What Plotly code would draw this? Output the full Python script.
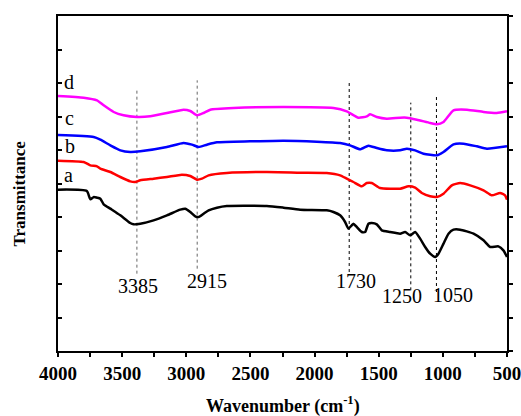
import plotly.graph_objects as go

# Wavenumber (cm-1) and transmittance (arbitrary, offset)
wn_a = [4000, 3775, 3748, 3720, 3696, 3670, 3644, 3592, 3514, 3437, 3411, 3359, 3255, 3151, 3047, 3008,
        2969, 2930, 2904, 2865, 2826, 2761, 2684, 2372, 2242, 2112, 1905, 1853, 1801, 1762, 1736, 1710,
        1697, 1671, 1632, 1606, 1580, 1554, 1515, 1476, 1411, 1333, 1294, 1255, 1216, 1177, 1138, 1099,
        1060, 1034, 995, 956, 917, 865, 761, 683, 631, 567, 528, 500]
t_a = [4.84, 4.80, 4.55, 4.62, 4.60, 4.57, 4.40, 4.27, 4.07, 3.84, 3.80, 3.82, 3.92, 4.07, 4.24, 4.27,
       4.17, 4.04, 4.02, 4.12, 4.22, 4.30, 4.35, 4.35, 4.30, 4.24, 4.22, 4.17, 4.07, 3.87, 3.67, 3.77,
       3.82, 3.72, 3.57, 3.57, 3.82, 3.84, 3.80, 3.62, 3.57, 3.52, 3.57, 3.47, 3.57, 3.37, 3.12, 2.92,
       2.82, 2.92, 3.22, 3.52, 3.64, 3.64, 3.52, 3.32, 3.12, 3.14, 3.02, 2.82]

wn_b = [4000, 3800, 3748, 3696, 3670, 3592, 3514, 3437, 3398, 3359, 3255, 3151, 3034, 2969, 2917, 2878,
        2826, 2684, 2372, 2112, 1905, 1801, 1749, 1697, 1632, 1593, 1554, 1489, 1333, 1268, 1216, 1164,
        1099, 1047, 995, 930, 865, 787, 683, 619, 554, 515, 500]
t_b = [5.71, 5.67, 5.57, 5.54, 5.47, 5.37, 5.22, 5.09, 5.07, 5.12, 5.17, 5.22, 5.29, 5.25, 5.14, 5.17,
       5.27, 5.34, 5.37, 5.35, 5.34, 5.27, 5.17, 5.07, 4.94, 5.04, 5.04, 4.89, 4.87, 4.94, 4.90, 4.74,
       4.64, 4.62, 4.72, 4.97, 5.04, 4.97, 4.82, 4.67, 4.74, 4.67, 4.54]

wn_c = [4000, 3722, 3670, 3592, 3514, 3437, 3359, 3151, 3021, 2956, 2904, 2839, 2761, 2502, 2242, 1983,
        1801, 1723, 1645, 1580, 1515, 1437, 1333, 1281, 1216, 1151, 1047, 995, 917, 839, 735, 657, 500]
t_c = [6.48, 6.42, 6.34, 6.17, 6.02, 5.97, 5.99, 6.12, 6.24, 6.19, 6.12, 6.19, 6.26, 6.29, 6.31, 6.28,
       6.24, 6.17, 6.05, 6.16, 6.09, 6.02, 6.02, 6.07, 6.02, 5.92, 5.87, 5.97, 6.20, 6.22, 6.14, 6.07, 6.14]

wn_d = [4000, 3800, 3696, 3644, 3566, 3489, 3385, 3281, 3151, 3021, 2969, 2917, 2865, 2813, 2632, 2242,
        1853, 1749, 1658, 1593, 1567, 1515, 1437, 1333, 1281, 1203, 1099, 1047, 995, 917, 813, 683, 580, 500]
t_d = [7.65, 7.60, 7.52, 7.37, 7.17, 7.07, 7.02, 7.04, 7.14, 7.24, 7.20, 7.07, 7.14, 7.24, 7.29, 7.32,
       7.29, 7.19, 7.00, 7.04, 7.10, 7.02, 6.97, 7.00, 7.00, 6.94, 6.84, 6.80, 6.87, 7.22, 7.24, 7.17, 7.14, 7.19]

series_names = ["a", "b", "c", "d"]
series_colors = ["#000000", "#ff0000", "#0000ff", "#ff00ff"]
series_x = [wn_a, wn_b, wn_c, wn_d]
series_y = [t_a, t_b, t_c, t_d]

# Letter label positions
label_x = [3917, 3904, 3912, 3917]
label_y = [5.27, 6.15, 7.00, 8.07]

# Marked peaks
peak_wn = [3385, 2915, 1730, 1250, 1050]
peak_top = [7.82, 8.12, 8.05, 7.45, 7.62]
peak_bottom = [2.32, 2.47, 2.37, 1.82, 1.77]
peak_text = ["3385", "2915", "1730", "1250", "1050"]
peak_text_x = [3377, 2840, 1676, 1315, 918]
peak_text_y = [1.94, 2.09, 2.09, 1.64, 1.69]
peak_colors = ["#666666", "#666666", "#000000", "#000000", "#000000"]

x_ticks = [4000, 3750, 3500, 3250, 3000, 2750, 2500, 2250, 2000, 1750, 1500, 1250, 1000, 750, 500]
x_ticktext = ["4000", "", "3500", "", "3000", "", "2500", "", "2000", "", "1500", "", "1000", "", "500"]

fig = go.Figure()

for wn, top, bot, col in zip(peak_wn, peak_top, peak_bottom, peak_colors):
    fig.add_trace(go.Scatter(x=[wn, wn], y=[bot, top], mode="lines",
                             line=dict(color=col, width=1, dash="dot"),
                             showlegend=False, hoverinfo="skip"))

for name, col, xs, ys in zip(series_names, series_colors, series_x, series_y):
    assert len(xs) == len(ys)
    fig.add_trace(go.Scatter(x=xs, y=ys, mode="lines", name=name,
                             line=dict(color=col, width=2.5, shape="spline", smoothing=0.5),
                             showlegend=False))

fig.add_trace(go.Scatter(x=[None], y=[None], yaxis="y2", showlegend=False))

serif = "Liberation Serif, Times New Roman, serif"

for t, x, y in zip(series_names, label_x, label_y):
    fig.add_annotation(x=x, y=y, text=t, showarrow=False, xanchor="center", yanchor="middle",
                       font=dict(family=serif, size=20, color="black"))

for t, x, y in zip(peak_text, peak_text_x, peak_text_y):
    fig.add_annotation(x=x, y=y, text=t, showarrow=False, xanchor="center", yanchor="middle",
                       font=dict(family=serif, size=20, color="black"))

# Axis titles
fig.add_annotation(xref="paper", yref="paper", x=0.5, y=0, yshift=-54, text="<b>Wavenumber (cm<sup>-1</sup>)</b>",
                   showarrow=False, xanchor="center", yanchor="middle",
                   font=dict(family=serif, size=18, color="black"))
fig.add_annotation(xref="paper", yref="paper", x=0, xshift=-38, y=0.47, text="<b>Transmittance</b>",
                   textangle=-90, showarrow=False, xanchor="center", yanchor="middle",
                   font=dict(family=serif, size=17, color="black"))

fig.update_layout(
    width=521, height=416,
    margin=dict(l=58, r=14, t=16, b=65, autoexpand=False),
    paper_bgcolor="white", plot_bgcolor="white",
    font=dict(family=serif, color="black"),
    xaxis=dict(range=[4000, 500], tickvals=x_ticks, ticktext=x_ticktext, automargin=False,
               ticks="outside", ticklen=4, tickwidth=1.5, tickcolor="black",
               ticklabeloverflow="allow",
               showline=True, linewidth=2, linecolor="black", mirror=True,
               showgrid=False, zeroline=False,
               tickfont=dict(family=serif, size=19, color="black", weight="bold")),
    yaxis=dict(range=[0, 10.05], tick0=0, dtick=1.005, ticks="inside", ticklen=4, automargin=False,
               tickwidth=1.5, tickcolor="black", showticklabels=False,
               showline=True, linewidth=2, linecolor="black",
               showgrid=False, zeroline=False),
    yaxis2=dict(range=[0, 10.05], tick0=0, dtick=1.005, ticks="outside", ticklen=4, automargin=False,
                tickwidth=1.5, tickcolor="black", showticklabels=False,
                overlaying="y", side="right", showline=True, linewidth=2, linecolor="black",
                showgrid=False, zeroline=False),
)

fig.write_html("out.html", config={"displayModeBar": False},
               post_script="document.body.style.margin='0';document.body.style.overflow='hidden';")
